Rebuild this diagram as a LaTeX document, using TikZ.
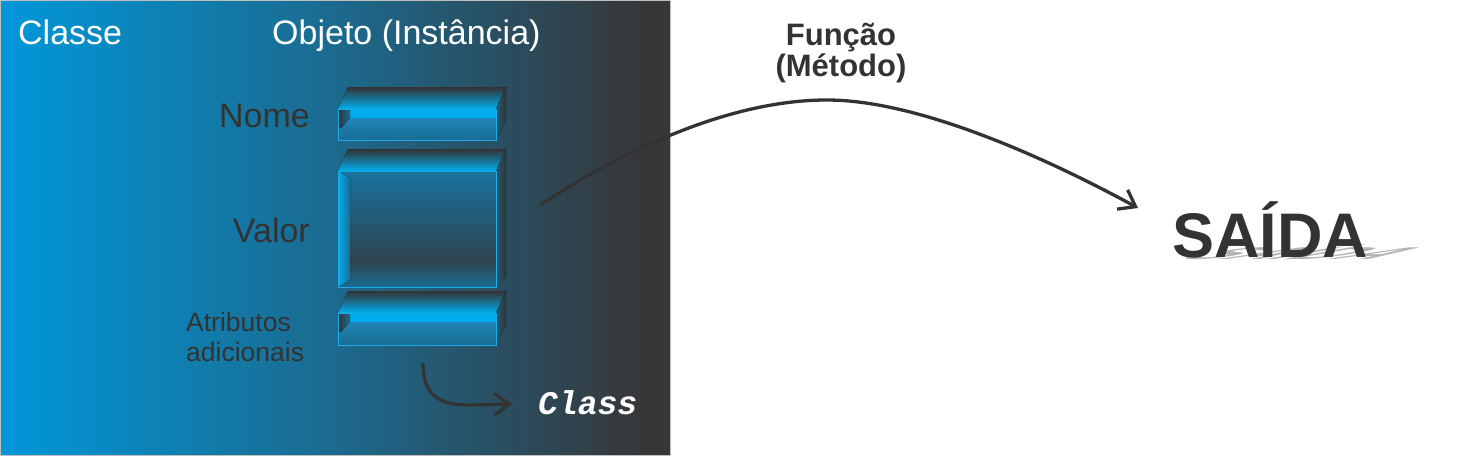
\documentclass[tikz,border=0pt]{standalone}
\usepackage{fontspec}
\setmainfont{Liberation Sans}
\newfontfamily\classfont{Liberation Mono}
\usetikzlibrary{arrows.meta}

\definecolor{panelA}{RGB}{0,151,217}
\definecolor{panelB}{RGB}{28,106,142}
\definecolor{panelC}{RGB}{47,68,80}
\definecolor{panelD}{RGB}{55,55,56}
\definecolor{boxcyan}{RGB}{0,174,239}
\definecolor{boxdark}{RGB}{51,51,51}
\definecolor{boxmid}{RGB}{30,135,185}
\definecolor{boxlow}{RGB}{26,108,148}
\definecolor{boxline}{RGB}{30,170,232}
\definecolor{textdark}{RGB}{51,51,51}

\pgfdeclarehorizontalshading{panelgrad}{100bp}{color(0bp)=(panelA); color(25bp)=(panelA); color(50bp)=(panelB); color(67bp)=(panelC); color(73bp)=(panelD); color(100bp)=(panelD)}

\begin{document}
\begin{tikzpicture}[x=1pt,y=1pt,yscale=-1,xscale=1,
  flow/.style={color=textdark, line width=3.3pt, -{Straight Barb[length=15pt,width=22pt,line width=3.3pt]}},
  label/.style={inner sep=0pt, text=textdark}]
	\useasboundingbox (0,0) rectangle (1469,458);

	%Shape: Rectangle [panel]
	\draw [draw=gray!50, line width=0.8pt, shading=panelgrad] (0,0) rectangle (670,455);

	%Shape: Box [nome]
	\fill [top color=boxdark, bottom color=boxcyan] (338,109) -- (348,87) -- (506,87) -- (496,109) -- cycle;
	\fill [left color=boxlow!70!boxdark, right color=boxdark] (496,109) -- (506,87) -- (506,120) -- (496,140) -- cycle;
	\fill [top color=boxmid, bottom color=boxlow] (338,117) rectangle (496,140);
	\fill [boxcyan] (338,109) rectangle (496,118);
	\fill [left color=boxdark, right color=boxlow] (338,109) -- (350,109) -- (350,118) -- (341,128) -- (338,128) -- cycle;
	\draw [boxline, line width=1pt] (338,109) rectangle (496,140);

	%Shape: Box [valor]
	\fill [top color=boxdark, bottom color=boxcyan] (338,171) -- (348,149) -- (506,149) -- (496,171) -- cycle;
	\fill [left color=boxlow!70!boxdark, right color=boxdark] (496,171) -- (506,149) -- (506,277) -- (496,287) -- cycle;
	\fill [top color=boxlow!90!boxcyan, bottom color=panelC] (338,171) rectangle (496,262);
	\fill [top color=panelC, bottom color=boxlow] (338,261) rectangle (496,287);
	\fill [left color=boxcyan, right color=boxlow] (338,171) -- (350,178) -- (350,280) -- (338,287) -- cycle;
	\draw [boxline, line width=1pt] (338,171) rectangle (496,287);

	%Shape: Box [atributos]
	\fill [top color=boxdark, bottom color=boxcyan] (338,313) -- (348,291) -- (506,291) -- (496,313) -- cycle;
	\fill [left color=boxlow!70!boxdark, right color=boxdark] (496,313) -- (506,291) -- (506,324) -- (496,345) -- cycle;
	\fill [top color=boxmid, bottom color=boxlow] (338,321) rectangle (496,345);
	\fill [boxcyan] (338,313) rectangle (496,322);
	\fill [left color=boxdark, right color=boxlow] (338,313) -- (350,313) -- (350,322) -- (341,332) -- (338,332) -- cycle;
	\draw [boxline, line width=1pt] (338,313) rectangle (496,345);

	% Text Node
	\draw (18,44) node [anchor=base west][inner sep=0pt][text=white, font=\fontsize{34}{40}\selectfont] (classe) {Classe};
	% Text Node
	\draw (272,44) node [anchor=base west][inner sep=0pt][text=white, font=\fontsize{34}{40}\selectfont] (objeto) {Objeto (Instância)};
	% Text Node
	\draw (310,127) node [anchor=base east][label, font=\fontsize{34}{40}\selectfont] (nome) {Nome};
	% Text Node
	\draw (310,242) node [anchor=base east][label, font=\fontsize{34}{40}\selectfont] (valor) {Valor};
	% Text Node
	\draw (186,361) node [anchor=base west][label, align=left, font=\fontsize{26.5}{30}\selectfont] (atributos) {Atributos\\adicionais};
	% Text Node
	\draw (538,414) node [anchor=base west][inner sep=0pt][text=white, font=\classfont\bfseries\itshape\fontsize{33}{38}\selectfont] (classlbl) {Class};
	% Text Node
	\draw (841,76) node [anchor=base][label, align=center, font=\bfseries\fontsize{31}{29}\selectfont] (funcao) {Função\\(Método)};

	%Shadow of SAIDA
	\begin{scope}[shift={(1174,259)}, cm={1,0,1.55,-0.27,(0,0)}]
	\node [transform shape, anchor=base west, inner sep=0pt, text=black!40, opacity=0.75, font=\bfseries\fontsize{63}{70}\selectfont] (saidashadow) at (0,0) {SAÍDA};
	\end{scope}
	% Text Node
	\draw (1172,257) node [anchor=base west][label, font=\bfseries\fontsize{63}{70}\selectfont] (saida) {SAÍDA};

	%Curve Lines [funcao]
	\coordinate (fstart) at (540,205);
	\coordinate (ftop) at (827,100);
	\coordinate (fend) at (1138,208);
	\draw [flow] (fstart) .. controls (640,140) and (740,100) .. (ftop) .. controls (920,100) and (1050,160) .. (fend);

	%Curve Lines [class]
	\coordinate (cstart) at (423,363);
	\coordinate (cend) at (512,404);
	\draw [flow] (cstart) .. controls (423,398) and (442,405) .. (470,405) -- (cend);

\end{tikzpicture}
\end{document}
